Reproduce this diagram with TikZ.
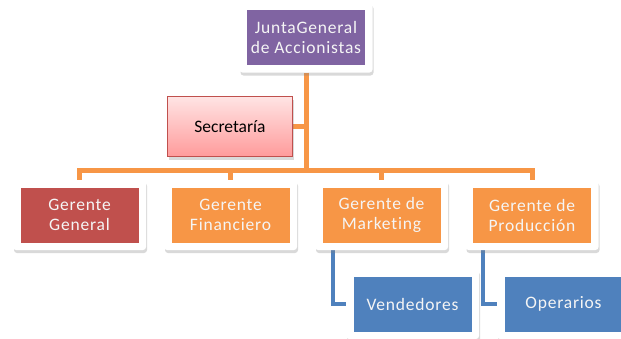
\documentclass[tikz,border=0pt]{standalone}
\usepackage{fontspec}
\setmainfont{Carlito}
\newfontfamily\spacedfont{Carlito}[LetterSpace=4.5, Ligatures=NoCommon]
\usepackage{tikz}
\usetikzlibrary{
  positioning,
  calc,
  shadows,
  backgrounds
}
\definecolor{juntapurple}{RGB}{128, 100, 162}
\definecolor{generalred}{RGB}{192, 80, 77}
\definecolor{gerenteorange}{RGB}{247, 150, 70}
\definecolor{staffblue}{RGB}{79, 129, 189}
\definecolor{secretop}{RGB}{255, 228, 228}
\definecolor{secrebot}{RGB}{255, 155, 155}
\definecolor{labelwhite}{RGB}{245, 245, 245}
\newcommand{\boxfont}{\fontsize{17.5}{20}\selectfont}
\tikzset{
  unit/.style = {
    rectangle, rounded corners=3pt,
    fill=white, minimum width=133pt, minimum height=70pt,
    inner sep=0pt, align=center, font=\boxfont\spacedfont, text=labelwhite,
    drop shadow={opacity=0.3, shadow xshift=1pt, shadow yshift=-3pt},
    path picture={
      \fill[#1, sharp corners]
        ([shift={(7.5pt,7.5pt)}]path picture bounding box.south west)
        rectangle ([shift={(-7.5pt,-7.5pt)}]path picture bounding box.north east);
    }
  },
  unit/.default = gerenteorange,
  secreblock/.style = {
    rectangle, draw=generalred, line width=1.3pt,
    top color=secretop, bottom color=secrebot,
    minimum width=125pt, minimum height=60pt,
    inner sep=0pt, font=\boxfont, text=black,
    drop shadow={opacity=0.3, shadow xshift=1pt, shadow yshift=-3pt}
  },
  link/.style   = {draw=gerenteorange, line width=5pt},
  sublink/.style = {draw=staffblue, line width=4.5pt},
}

\begin{document}
\begin{tikzpicture}[x=1pt, y=-1pt]
  \useasboundingbox (0,0) rectangle (621,338);

  % tree of the company
  \node[unit=juntapurple] (junta) at (306,37.5) {JuntaGeneral\\de Accionistas};
  \node[secreblock] (secre) at (230,126.5) {Secretaría};

  \node[unit=generalred] (gg)  at (79.5,215)  {Gerente\\General};
  \node[unit]            (gf)  at (230.5,215) {Gerente\\Financiero};
  \node[unit]            (gm)  at (381.5,215) {Gerente de\\Marketing};
  \node[unit]            (gp)  at (532,215)   {Gerente de\\Producción};

  \node[unit=staffblue]  (vend) at (412.5,304) {Vendedores};
  \node[unit=staffblue]  (oper) at (563.5,304) {Operarios};

  \coordinate (bus) at (306,170);

  \begin{scope}[on background layer]
    \draw[link] (secre.east) -- (secre.east -| junta.south);
    \foreach \g in {gg, gf, gm, gp}
      \draw[link] (junta.south) -- (junta.south |- bus) -| (\g.north);
    \draw[sublink] ([xshift=-48.5pt]gm.south) |- (vend.west);
    \draw[sublink] ([xshift=-49pt]gp.south) |- (oper.west);
  \end{scope}

\end{tikzpicture}
\end{document}
